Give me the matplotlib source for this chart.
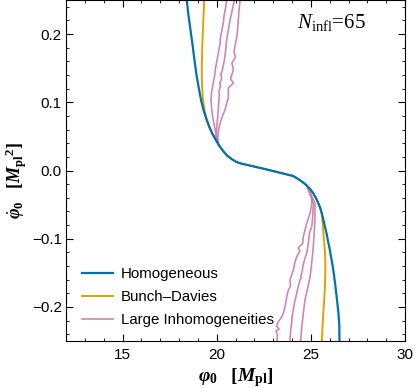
import matplotlib
matplotlib.use("Agg")
import matplotlib.pyplot as plt
from matplotlib.ticker import MultipleLocator

plt.rcParams['font.family'] = ['Liberation Sans', 'DejaVu Sans']
plt.rcParams['mathtext.fontset'] = 'custom'
plt.rcParams['mathtext.rm'] = 'Liberation Serif'
plt.rcParams['mathtext.it'] = 'Liberation Serif:italic'
plt.rcParams['mathtext.bf'] = 'Liberation Serif:bold'
plt.rcParams['mathtext.bfit'] = 'Liberation Serif:italic:bold'

# homogeneous background trajectory (phi0, dphi0)
homog_phi = [18.41, 18.50, 18.61, 18.72, 18.82, 18.93, 19.05, 19.17, 19.30, 19.45, 19.61,
             19.78, 19.96, 20.15, 20.34, 20.55, 20.79, 21.03, 21.24, 22.66, 24.07, 24.33,
             24.56, 24.78, 24.96, 25.13, 25.27, 25.40, 25.50, 25.58, 25.67, 25.75, 25.83,
             25.90, 25.99, 26.07, 26.16, 26.23, 26.31, 26.39, 26.46, 26.51, 26.52]
homog_dphi = [0.25, 0.2280, 0.2060, 0.1840, 0.1620, 0.1400, 0.1210, 0.1034, 0.0887, 0.0755,
              0.0638, 0.0535, 0.0447, 0.0359, 0.0286, 0.0220, 0.0169, 0.0128, 0.0106, 0.0015,
              -0.0081, -0.0125, -0.0169, -0.0220, -0.0271, -0.0334, -0.0403, -0.0481, -0.0550,
              -0.0628, -0.0726, -0.0824, -0.0916, -0.1019, -0.1136, -0.1264, -0.1400, -0.1532,
              -0.1708, -0.1899, -0.2075, -0.2265, -0.25]

# Bunch-Davies
bd_phi = [19.34, 19.30, 19.26, 19.23, 19.21, 19.22, 19.27, 19.36, 19.47, 19.61, 19.78, 19.96,
          20.15, 20.34, 20.55, 20.79, 21.03, 21.24, 22.66, 24.07, 24.33, 24.56, 24.78, 24.96,
          25.13, 25.27, 25.40, 25.50, 25.58, 25.62, 25.66, 25.71, 25.75, 25.77, 25.77, 25.75,
          25.71, 25.66, 25.62, 25.58]
bd_dphi = [0.25, 0.225, 0.200, 0.175, 0.150, 0.125, 0.105, 0.088, 0.076, 0.0638, 0.0535,
           0.0447, 0.0359, 0.0286, 0.0220, 0.0169, 0.0128, 0.0106, 0.0015, -0.0081, -0.0125,
           -0.0169, -0.0220, -0.0271, -0.0334, -0.0403, -0.0481, -0.0550, -0.0628, -0.075,
           -0.090, -0.105, -0.120, -0.135, -0.150, -0.170, -0.190, -0.209, -0.230, -0.25]

# large inhomogeneities, upper branch
inh_up_phi = [
    [20.53, 20.47, 20.39, 20.36, 20.28, 20.20, 20.18, 20.10, 20.02, 19.94, 19.89, 19.81,
     19.73, 19.70, 19.73, 19.78, 19.86, 19.94, 20.00],
    [20.94, 20.83, 20.71, 20.62, 20.53, 20.48, 20.41, 20.30, 20.22, 20.27, 20.16, 20.20,
     20.12, 20.14, 20.09, 20.05, 20.00, 19.99, 20.04],
    [21.24, 21.19, 21.15, 21.11, 21.06, 20.97, 20.92, 21.00, 20.81, 20.89, 20.73, 20.89,
     20.62, 20.62, 20.52, 20.44, 20.31, 20.20, 20.12, 20.07, 20.09],
]
inh_up_dphi = [
    [0.25, 0.2383, 0.2265, 0.2177, 0.2060, 0.1943, 0.1855, 0.1738, 0.1620, 0.1503, 0.1386,
     0.1268, 0.1151, 0.1034, 0.0916, 0.0799, 0.0682, 0.0564, 0.0430],
    [0.25, 0.2353, 0.2207, 0.2060, 0.1913, 0.1767, 0.1620, 0.1474, 0.1410, 0.1356, 0.1280,
     0.1239, 0.1160, 0.1107, 0.0916, 0.0770, 0.0623, 0.0477, 0.0403],
    [0.25, 0.2353, 0.2207, 0.2060, 0.1943, 0.1825, 0.1738, 0.1664, 0.1576, 0.1474, 0.1342,
     0.1283, 0.1210, 0.1063, 0.0975, 0.0887, 0.0799, 0.0711, 0.0623, 0.0506, 0.0374],
]

# large inhomogeneities, lower branch
inh_lo_phi = [
    [24.78, 25.04, 25.05, 24.96, 24.78, 24.69, 24.60, 24.57, 24.33, 24.42, 24.25, 24.16,
     24.07, 23.89, 23.92, 23.79, 23.72, 23.63, 23.54, 23.42, 23.26, 23.18, 23.31, 23.15,
     23.23, 23.20],
    [24.78, 25.13, 25.10, 25.05, 24.92, 24.87, 24.78, 24.66, 24.58, 24.52, 24.46, 24.49,
     24.42, 24.33, 24.21, 24.13, 24.07, 24.00, 23.98, 23.92, 23.89],
    [24.78, 25.22, 25.22, 25.18, 25.13, 25.09, 25.05, 24.96, 24.88, 24.81, 24.69, 24.60,
     24.56, 24.52, 24.46],
]
inh_lo_dphi = [
    [-0.0220, -0.0374, -0.0477, -0.0628, -0.0774, -0.0872, -0.0971, -0.1068, -0.1136,
     -0.1180, -0.1264, -0.1342, -0.1459, -0.1606, -0.1694, -0.1767, -0.1855, -0.1997,
     -0.2094, -0.2163, -0.2221, -0.2280, -0.2324, -0.2353, -0.2412, -0.25],
    [-0.0220, -0.0481, -0.0678, -0.0824, -0.0921, -0.1068, -0.1214, -0.1312, -0.1400,
     -0.1508, -0.1550, -0.1580, -0.1606, -0.1704, -0.1850, -0.1943, -0.2046, -0.2148,
     -0.2241, -0.2368, -0.25],
    [-0.0220, -0.0481, -0.0726, -0.0921, -0.1117, -0.1239, -0.1342, -0.1557, -0.1664,
     -0.1752, -0.1899, -0.2094, -0.2192, -0.2290, -0.25],
]

c_homog = '#0072B2'
c_bd = '#E69F00'
c_inh = '#CC79A7'

fig = plt.figure(figsize=(4.15, 3.88), dpi=100)
ax = fig.add_axes([66 / 415, 47 / 388, 339 / 415, 341 / 388])

for xs, ys in zip(inh_up_phi, inh_up_dphi):
    ax.plot(xs, ys, color=c_inh, lw=1.2, alpha=0.9)
for i, (xs, ys) in enumerate(zip(inh_lo_phi, inh_lo_dphi)):
    ax.plot(xs, ys, color=c_inh, lw=1.2, alpha=0.9,
            label='Large Inhomogeneities' if i == 0 else None)
ax.plot(bd_phi, bd_dphi, color=c_bd, lw=1.4, label='Bunch\u2013Davies')
ax.plot(homog_phi, homog_dphi, color=c_homog, lw=1.6, label='Homogeneous')

ax.set_xlim(12, 30)
ax.set_ylim(-0.25, 0.25)
ax.xaxis.set_major_locator(MultipleLocator(5))
ax.xaxis.set_minor_locator(MultipleLocator(1))
ax.yaxis.set_major_locator(MultipleLocator(0.1))
ax.yaxis.set_minor_locator(MultipleLocator(0.02))
ax.tick_params(which='both', direction='in', top=True, right=True, labelsize=11)
ax.tick_params(which='major', length=5, width=0.8)
ax.tick_params(which='minor', length=2.5, width=0.6)
ax.tick_params(axis='x', pad=5)
ax.tick_params(axis='y', pad=3)

ax.set_xlabel(r'$\mathbfit{\varphi}_{\mathbf{0}}\ \ \ \mathbf{[}\mathbfit{M}_{\mathbf{pl}}\mathbf{]}$',
              fontsize=14)
ax.set_ylabel(r'$\dot{\mathbfit{\varphi}}_{\mathbf{0}}\ \ \ \mathbf{[}\mathbfit{M}_{\mathbf{pl}}{}^{\mathbf{2}}\mathbf{]}$',
              fontsize=13)
ax.xaxis.set_label_coords(0.5, -0.075)
ax.yaxis.set_label_coords(-0.11, 0.472)

ax.text(0.68, 0.935, r'$N_{\mathrm{infl}}$=65', transform=ax.transAxes,
        fontsize=15, ha='left', va='center', family='Liberation Serif')

handles, labels = ax.get_legend_handles_labels()
order = [2, 1, 0]
ax.legend([handles[i] for i in order], [labels[i] for i in order], loc='lower left',
          bbox_to_anchor=(0.046, 0.04), frameon=False, fontsize=10.8, borderpad=0,
          borderaxespad=0, handlelength=2.1, handletextpad=0.5, labelspacing=0.62)

fig.savefig('out.png', dpi=100)
